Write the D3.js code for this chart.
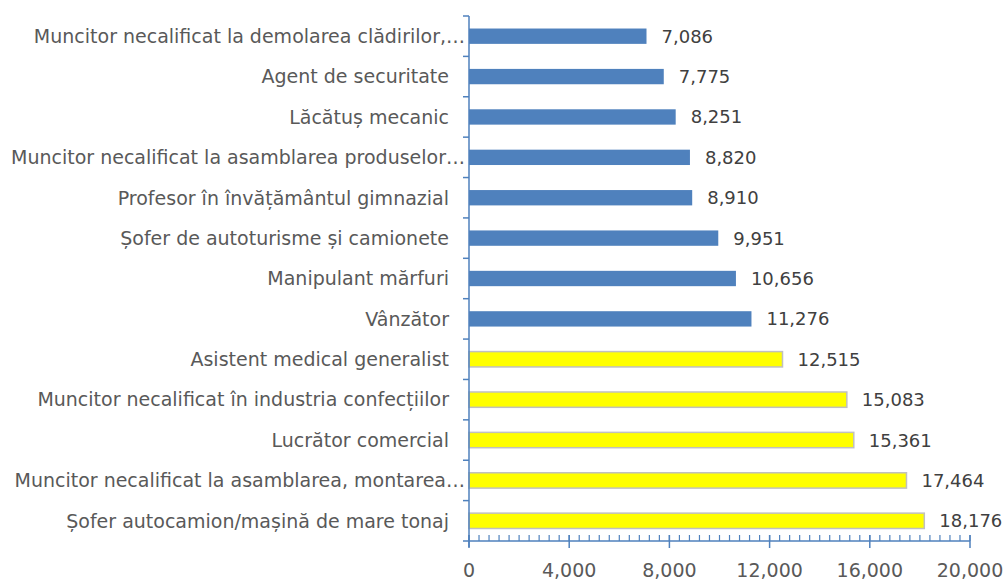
<!DOCTYPE html>
<html>
<head>
<meta charset="utf-8">
<script src="https://cdn.jsdelivr.net/npm/d3@7"></script>
<style>
  body { margin: 0; background: #fff; }
  svg text { font-family: "DejaVu Sans", sans-serif; fill: #595959; }
</style>
</head>
<body>
<svg id="chart" width="1004" height="581"></svg>
<script>
// categories top to bottom, as in the picture
var occupations = [
    "Muncitor necalificat la demolarea clădirilor,…",
    "Agent de securitate",
    "Lăcătuș mecanic",
    "Muncitor necalificat la asamblarea produselor…",
    "Profesor în învățământul gimnazial",
    "Șofer de autoturisme și camionete",
    "Manipulant mărfuri",
    "Vânzător",
    "Asistent medical generalist",
    "Muncitor necalificat în industria confecțiilor",
    "Lucrător comercial",
    "Muncitor necalificat la asamblarea, montarea…",
    "Șofer autocamion/mașină de mare tonaj"
];
var vacancies = [7086, 7775, 8251, 8820, 8910, 9951, 10656, 11276, 12515, 15083, 15361, 17464, 18176];
// the five largest are highlighted in yellow
var highlighted = [false, false, false, false, false, false, false, false, true, true, true, true, true];
var xTicks = [0, 4000, 8000, 12000, 16000, 20000];
var minorStep = 400;

var svg = d3.select("#chart");
var plotLeft = 469, plotRight = 970, plotTop = 16, plotBottom = 541;
var axisColor = "#4F81BD";

var x = d3.scaleLinear().domain([0, 20000]).range([plotLeft, plotRight]);
var y = d3.scaleBand().domain(occupations).range([plotTop, plotBottom]).paddingInner(0.62).paddingOuter(0.31);
var band = (plotBottom - plotTop) / occupations.length;

//bars
svg.append("g").selectAll("rect")
    .data(vacancies)
    .enter().append("rect")
    .attr("x", x(0))
    .attr("y", function(d, i) { return y(occupations[i]); })
    .attr("width", function(d) { return x(d) - x(0); })
    .attr("height", y.bandwidth())
    .attr("fill", function(d, i) { return highlighted[i] ? "#FFFF00" : "#4F81BD"; })
    .attr("stroke", function(d, i) { return highlighted[i] ? "#C0C0C0" : "none"; })
    .attr("stroke-width", 1.5);

//value labels
svg.append("g").selectAll("text")
    .data(vacancies)
    .enter().append("text")
    .attr("x", function(d) { return x(d) + 15; })
    .attr("y", function(d, i) { return y(occupations[i]) + y.bandwidth() / 2; })
    .attr("dy", "0.36em")
    .style("font-size", "18px")
    .style("fill", "#404040")
    .text(function(d) { return d3.format(",")(d); });

//category labels
svg.append("g").selectAll("text")
    .data(occupations)
    .enter().append("text")
    .attr("x", function(d) { return d.slice(-1) == "…" ? 465 : 449; })
    .attr("y", function(d) { return y(d) + y.bandwidth() / 2; })
    .attr("dy", "0.36em")
    .attr("text-anchor", "end")
    .style("font-size", "19px")
    .text(function(d) { return d; });

//left axis with ticks on the band boundaries
var yAxis = svg.append("g");
yAxis.append("line")
    .attr("x1", plotLeft).attr("x2", plotLeft)
    .attr("y1", plotTop).attr("y2", plotBottom + 6)
    .attr("stroke", axisColor).attr("stroke-width", 1.5);
yAxis.selectAll(".ytick")
    .data(d3.range(occupations.length + 1))
    .enter().append("line")
    .attr("class", "ytick")
    .attr("x1", plotLeft - 6).attr("x2", plotLeft)
    .attr("y1", function(i) { return plotTop + i * band; })
    .attr("y2", function(i) { return plotTop + i * band; })
    .attr("stroke", axisColor).attr("stroke-width", 1.5);

//bottom axis: minor ticks inside, major ticks crossing
var xAxis = svg.append("g");
xAxis.append("line")
    .attr("x1", plotLeft).attr("x2", plotRight)
    .attr("y1", plotBottom).attr("y2", plotBottom)
    .attr("stroke", axisColor).attr("stroke-width", 1.5);
xAxis.selectAll(".minor")
    .data(d3.range(0, 20001, minorStep))
    .enter().append("line")
    .attr("class", "minor")
    .attr("x1", function(d) { return x(d); })
    .attr("x2", function(d) { return x(d); })
    .attr("y1", plotBottom - 6).attr("y2", plotBottom)
    .attr("stroke", axisColor).attr("stroke-width", 1.2);
xAxis.selectAll(".major")
    .data(xTicks)
    .enter().append("line")
    .attr("class", "major")
    .attr("x1", function(d) { return x(d); })
    .attr("x2", function(d) { return x(d); })
    .attr("y1", plotBottom - 6).attr("y2", plotBottom + 7)
    .attr("stroke", axisColor).attr("stroke-width", 1.5);
xAxis.selectAll("text")
    .data(xTicks)
    .enter().append("text")
    .attr("x", function(d) { return x(d); })
    .attr("y", 570)
    .attr("dy", "0.36em")
    .attr("text-anchor", "middle")
    .style("font-size", "19px")
    .text(function(d) { return d3.format(",")(d); });
</script>
</body>
</html>
